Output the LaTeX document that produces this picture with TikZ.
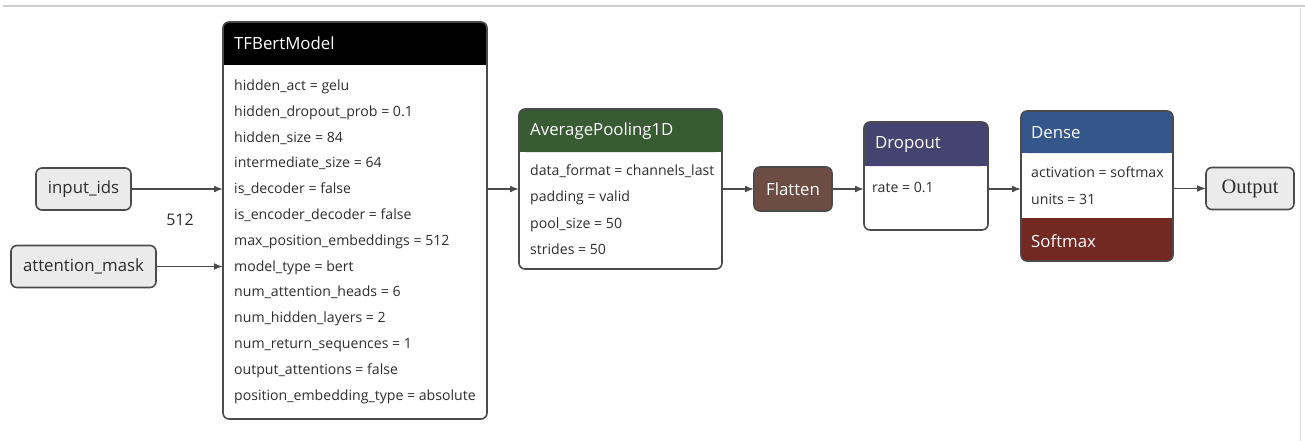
\documentclass[tikz,border=0pt]{standalone}
\usepackage{fontspec}
\setmainfont{Open Sans}
\newfontfamily\outfont{Liberation Serif}
\usetikzlibrary{arrows.meta,calc,positioning}

\definecolor{linegray}{RGB}{75,75,75}
\definecolor{rowgray}{RGB}{45,45,45}
\definecolor{iogray}{RGB}{235,235,235}
\definecolor{framegray}{RGB}{205,205,205}
\definecolor{poolgreen}{RGB}{56,91,52}
\definecolor{flatbrown}{RGB}{109,76,68}
\definecolor{dropnavy}{RGB}{69,68,112}
\definecolor{denseblue}{RGB}{52,86,139}
\definecolor{softred}{RGB}{115,41,33}

\tikzset{
  layer/.style={inner sep=0pt, outer sep=0pt},
  title/.style={anchor=west, inner sep=0pt, text=white,
    font=\fontsize{16.8}{19}\selectfont},
  row/.style={anchor=west, inner sep=0pt, text=rowgray,
    text height=10pt, text depth=3pt, font=\fontsize{14.1}{16}\selectfont},
  io/.style={draw=linegray, line width=1.6pt, rounded corners=6pt,
    fill=iogray, inner sep=0pt, outer sep=0pt, minimum height=42pt,
    text=rowgray, font=\fontsize{16.8}{19}\selectfont},
  flow/.style={-{Latex[length=9pt,width=7pt]}, draw=linegray, line width=1.6pt}
}

% coloured band at the top or at the bottom of a layer box
\newcommand\band[3]{%
  \fill[#3, rounded corners=6pt] (#1.north west) rectangle ($(#1.north east)+(0,#2)$);
  \fill[#3] ($(#1.north west)+(0,#2/2)$) rectangle ($(#1.north east)+(0,#2)$);
}
\newcommand\footband[3]{%
  \fill[#3, rounded corners=6pt] (#1.south west) rectangle ($(#1.south east)+(0,-#2)$);
  \fill[#3] ($(#1.south west)+(0,-#2/2)$) rectangle ($(#1.south east)+(0,-#2)$);
}
\newcommand\outline[1]{%
  \draw[draw=linegray, line width=1.6pt, rounded corners=6pt]
    (#1.north west) rectangle (#1.south east);
}

\begin{document}
\begin{tikzpicture}[x=1pt, y=-1pt]
  \useasboundingbox (0,0) rectangle (1305,441);
  \draw[framegray, line width=2pt] (3,6) -- (1305,6);
  \draw[framegray!60, line width=1pt] (1300,8) -- (1300,441);

  %% inputs
  \node[io, minimum width=95pt] (ids) at (83.5,189) {input\_ids};
  \node[io, minimum width=145pt] (mask) at (83.5,266.5) {attention\_mask};
  \node[text=rowgray, font=\fontsize{16}{18}\selectfont] (len) at (180,220) {512};

  %% TFBertModel
  \node[layer, minimum width=264pt, minimum height=397pt] (bert) at (355,220.5) {};
  \band{bert}{43}{black}
  \outline{bert}
  \node[title] (bert-title) at ($(bert.north west)+(11,21.5)$) {TFBertModel};
  \foreach \txt [count=\i] in {hidden\_act = gelu, hidden\_dropout\_prob = 0.1,
      hidden\_size = 84, intermediate\_size = 64, is\_decoder = false,
      is\_encoder\_decoder = false, max\_position\_embeddings = 512,
      model\_type = bert, num\_attention\_heads = 6, num\_hidden\_layers = 2,
      num\_return\_sequences = 1, output\_attentions = false,
      position\_embedding\_type = absolute}
    \node[row] (bert-\i) at ($(bert.north west)+(11,{65+25.8*(\i-1)})$) {\txt};

  %% AveragePooling1D
  \node[layer, minimum width=203pt, minimum height=160pt] (avg) at (620.5,189) {};
  \band{avg}{43}{poolgreen}
  \outline{avg}
  \node[title] (avg-title) at ($(avg.north west)+(11,22)$) {AveragePooling1D};
  \foreach \txt [count=\i] in {data\_format = channels\_last, padding = valid,
      pool\_size = 50, strides = 50}
    \node[row] (avg-\i) at ($(avg.north west)+(11,{63+26.3*(\i-1)})$) {\txt};

  %% Flatten
  \node[io, fill=flatbrown, text=white, minimum width=78pt, minimum height=44pt]
    (flat) at (793,189) {Flatten};

  %% Dropout
  \node[layer, minimum width=124pt, minimum height=108pt] (drop) at (926,176) {};
  \band{drop}{44}{dropnavy}
  \outline{drop}
  \node[title] (drop-title) at ($(drop.north west)+(11,23)$) {Dropout};
  \node[row] (drop-1) at ($(drop.north west)+(8,67)$) {rate = 0.1};

  %% Dense + Softmax
  \node[layer, minimum width=152pt, minimum height=150pt] (dense) at (1097,186) {};
  \band{dense}{42}{denseblue}
  \footband{dense}{43}{softred}
  \outline{dense}
  \node[title] (dense-title) at ($(dense.north west)+(10,22)$) {Dense};
  \node[row] (dense-1) at ($(dense.north west)+(10,63)$) {activation = softmax};
  \node[row] (dense-2) at ($(dense.north west)+(10,90)$) {units = 31};
  \node[title] (soft-title) at ($(dense.south west)+(10,-20)$) {Softmax};

  %% output
  \node[io, minimum width=88pt, font=\outfont\fontsize{20.5}{22}\selectfont]
    (out) at (1250,188.5) {Output};

  %% connectors
  \draw[flow] (ids) -- (ids -| bert.west);
  \draw[flow] (mask) -- (mask -| bert.west);
  \draw[flow] (bert.east |- flat) -- (avg.west |- flat);
  \draw[flow] (avg.east |- flat) -- (flat);
  \draw[flow] (flat) -- (flat -| drop.west);
  \draw[flow] (drop.east |- flat) -- (flat -| dense.west);
  \draw[flow] (dense.east |- out) -- (out);
\end{tikzpicture}
\end{document}
